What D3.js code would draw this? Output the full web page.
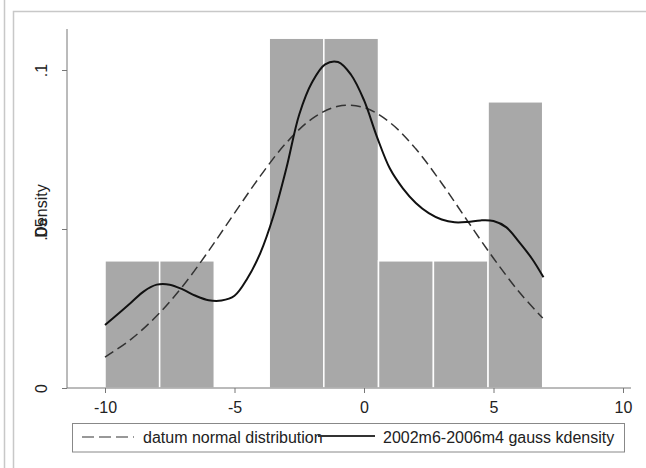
<!DOCTYPE html>
<html><head><meta charset="utf-8">
<script src="https://cdn.jsdelivr.net/npm/d3@7"></script>
<style>body{margin:0;background:#fff}svg{display:block}text{font-family:"Liberation Sans",Arial,sans-serif;fill:#222}</style>
</head><body><svg id="c" width="646" height="468"></svg>
<script>
// Histogram bins (lower / upper edges) and densities
const binLo = [-10, -7.89, -5.78, -3.66, -1.55, 0.56, 2.68, 4.79];
const binHi = [-7.89, -5.78, -3.66, -1.55, 0.56, 2.68, 4.79, 6.9];
const binDensity = [0.04, 0.04, 0, 0.11, 0.11, 0.04, 0.04, 0.09];

// Normal distribution curve (dashed)
const normX = [-10, -9, -8, -7, -6, -5, -4, -3, -2, -1, 0, 1, 2, 3, 4, 5, 6, 6.9];
const normY = [0.0097, 0.0153, 0.0227, 0.0320, 0.0431, 0.0550, 0.0667, 0.0771, 0.0847, 0.0886, 0.0882, 0.0835, 0.0752, 0.0644, 0.0525, 0.0408, 0.0301, 0.0220];

// Kernel density (solid)
const kdX = [-10, -9.5, -9, -8.5, -8, -7.5, -7, -6.5, -6, -5.5, -5, -4.5, -4, -3.5, -3, -2.5, -2, -1.5, -1, -0.5, 0, 0.5, 1, 1.5, 2, 2.5, 3, 3.5, 4, 4.5, 5, 5.5, 6, 6.5, 6.93];
const kdY = [0.0198, 0.0233, 0.0268, 0.0304, 0.0325, 0.0325, 0.0310, 0.0290, 0.0276, 0.0275, 0.0290, 0.0345, 0.0425, 0.0540, 0.0690, 0.0860, 0.0962, 0.1018, 0.1025, 0.0985, 0.0905, 0.0790, 0.0690, 0.0628, 0.0582, 0.0550, 0.0530, 0.0521, 0.0522, 0.0527, 0.0525, 0.0505, 0.0458, 0.0405, 0.0348];

const xTicks = [-10, -5, 0, 5, 10];
const yTicks = [0, 0.05, 0.1];
const yTickLabels = ["0", ".05", ".1"];
const legendLabels = ["datum normal distribution", "2002m6-2006m4 gauss kdensity"];

const FONT = "Liberation Sans, Arial, sans-serif";
const svg = d3.select("#c");
const x = d3.scaleLinear().domain([-10, 10]).range([105, 623]);
const y = d3.scaleLinear().domain([0, 0.1]).range([388, 70]);

// frames
svg.append("line").attr("x1", 4.5).attr("x2", 4.5).attr("y1", 0).attr("y2", 468).attr("stroke", "#c8c8c8").attr("stroke-width", 1.5);
svg.append("path").attr("d", "M13.5,468 V11.5 H646").attr("fill", "none").attr("stroke", "#c8c8c8").attr("stroke-width", 1.5);

// bars
svg.append("g").selectAll("rect").data(binDensity).join("rect")
  .attr("x", (d, i) => x(binLo[i]))
  .attr("width", (d, i) => x(binHi[i]) - x(binLo[i]))
  .attr("y", d => y(d))
  .attr("height", d => y(0) - y(d))
  .attr("fill", "#a8a8a8").attr("stroke", "#fff").attr("stroke-width", 1.5)
  .style("display", d => d > 0 ? null : "none");

// axes
const gx = svg.append("g").attr("transform", "translate(0,388)")
  .call(d3.axisBottom(x).tickValues(xTicks).tickSize(5).tickPadding(9).tickFormat(d3.format("d")));
gx.select(".domain").remove();
gx.append("line").attr("x1", 67).attr("x2", 631).attr("stroke", "#777");
gx.selectAll(".tick line").attr("stroke", "#777");
gx.selectAll(".tick text").attr("font-size", 16).style("font-family", FONT).attr("fill", "#222").text(d => d < 0 ? "-" + Math.abs(d) : d);

const gy = svg.append("g").attr("transform", "translate(67,0)")
  .call(d3.axisLeft(y).tickValues(yTicks).tickSize(5).tickFormat((d, i) => yTickLabels[i]));
gy.select(".domain").remove();
gy.append("line").attr("y1", 29).attr("y2", 388).attr("stroke", "#777");
gy.selectAll(".tick line").attr("stroke", "#777");
gy.selectAll(".tick text").attr("font-size", 16).style("font-family", FONT).attr("fill", "#222")
  .attr("x", null).attr("dy", null).attr("text-anchor", "middle")
  .attr("transform", "translate(-20,0) rotate(-90)");

svg.append("text").attr("transform", "translate(47,211) rotate(-90)").attr("text-anchor", "middle")
  .attr("font-size", 16).text("Density");

// curves
const line = d3.line().curve(d3.curveCatmullRom.alpha(0.5));
svg.append("path").attr("d", line(normX.map((v, i) => [x(v), y(normY[i])])))
  .attr("fill", "none").attr("stroke", "#333").attr("stroke-width", 1.5).attr("stroke-dasharray", "10,5");
svg.append("path").attr("d", line(kdX.map((v, i) => [x(v), y(kdY[i])])))
  .attr("fill", "none").attr("stroke", "#111").attr("stroke-width", 2);

// legend
const lg = svg.append("g");
lg.append("rect").attr("x", 72.5).attr("y", 423.5).attr("width", 552).attr("height", 28.5).attr("fill", "#fff").attr("stroke", "#888");
lg.append("line").attr("x1", 82).attr("x2", 134).attr("y1", 437).attr("y2", 437).attr("stroke", "#777").attr("stroke-width", 1.3).attr("stroke-dasharray", "12,5");
lg.append("text").attr("x", 143).attr("y", 443).attr("font-size", 16).text(legendLabels[0]);
lg.append("line").attr("x1", 318).attr("x2", 375).attr("y1", 436).attr("y2", 436).attr("stroke", "#333").attr("stroke-width", 1.8);
lg.append("text").attr("x", 383).attr("y", 443).attr("font-size", 16).text(legendLabels[1]);
</script></body></html>
